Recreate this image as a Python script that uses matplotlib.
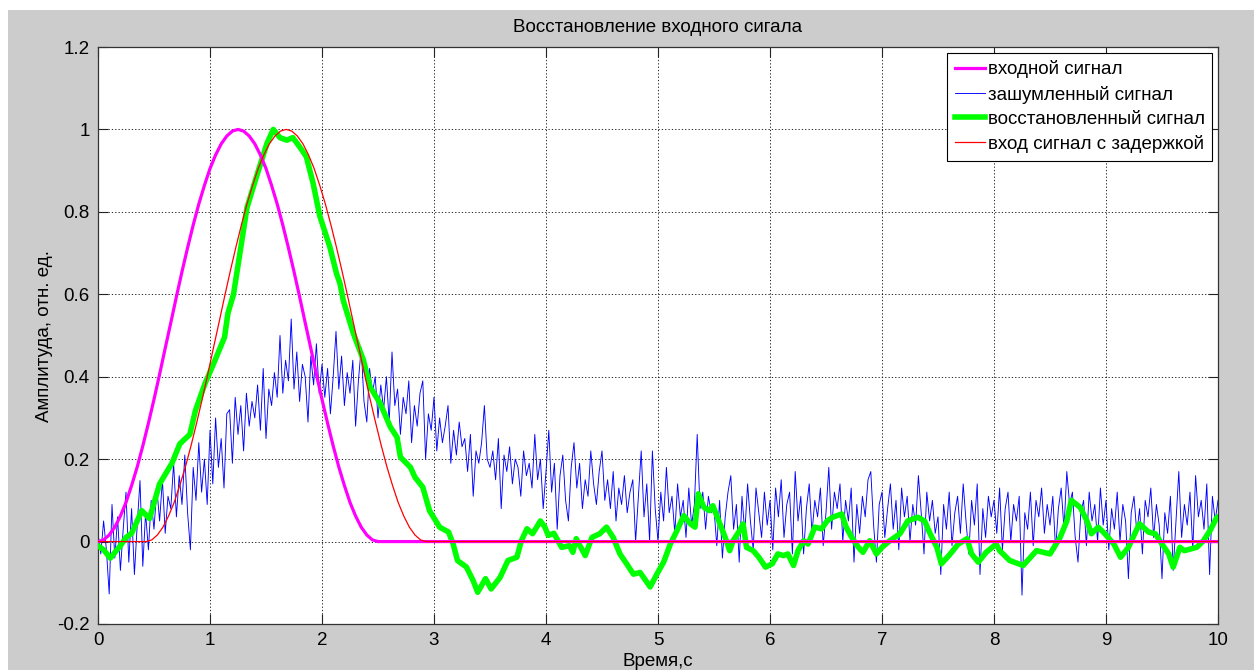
import numpy as np
import matplotlib.pyplot as plt
from matplotlib.patches import Rectangle
from matplotlib.lines import Line2D

plt.rcParams['font.family'] = ['Liberation Sans', 'DejaVu Sans']

# input pulse (raised cosine, 0..2.5 s, 0.05 s step)
dt_in = 0.05
x_in = [0.0, 0.004, 0.016, 0.035, 0.062, 0.095, 0.136, 0.181, 0.232, 0.287,
        0.345, 0.406, 0.469, 0.531, 0.594, 0.655, 0.713, 0.768, 0.819, 0.864,
        0.905, 0.938, 0.965, 0.984, 0.996, 1.0, 0.996, 0.984, 0.965, 0.938,
        0.905, 0.864, 0.819, 0.768, 0.713, 0.655, 0.594, 0.531, 0.469, 0.406,
        0.345, 0.287, 0.232, 0.181, 0.136, 0.095, 0.062, 0.035, 0.016, 0.004, 0.0]
t_end = 10.0
delay = 0.43

# noisy signal, 0.025 s step, one row per 0.5 s
dt_noisy = 0.025
x_noisy = [
    0.02, -0.03, 0.05, -0.02, -0.127, 0.09, -0.04, 0.06, -0.07, 0.03, 0.12, -0.05, 0.08, -0.08, 0.04, 0.148, -0.06, 0.07, -0.02, 0.10,
    0.03, 0.13, 0.05, 0.15, 0.02, 0.11, 0.08, 0.19, 0.06, 0.16, 0.09, 0.21, 0.07, -0.02, 0.18, 0.10, 0.24, 0.12, 0.20, 0.09,
    0.27, 0.14, 0.30, 0.18, 0.25, 0.13, 0.31, 0.32, 0.19, 0.35, 0.26, 0.33, 0.22, 0.36, 0.28, 0.34, 0.30, 0.38, 0.27, 0.42,
    0.25, 0.37, 0.33, 0.41, 0.35, 0.50, 0.36, 0.44, 0.39, 0.54, 0.37, 0.46, 0.34, 0.43, 0.40, 0.29, 0.45, 0.38, 0.48, 0.36,
    0.43, 0.35, 0.42, 0.31, 0.40, 0.51, 0.37, 0.45, 0.33, 0.41, 0.36, 0.44, 0.28, 0.39, 0.47, 0.34, 0.29, 0.42, 0.36, 0.40,
    0.30, 0.38, 0.32, 0.40, 0.29, 0.46, 0.33, 0.37, 0.26, 0.35, 0.31, 0.39, 0.24, 0.33, 0.28, 0.36, 0.39, 0.20, 0.31, 0.27,
    0.35, 0.22, 0.30, 0.24, 0.28, 0.33, 0.19, 0.27, 0.21, 0.29, 0.23, 0.25, 0.17, 0.26, 0.11, 0.22, 0.19, 0.24, 0.33, 0.20,
    0.18, 0.22, 0.15, 0.25, 0.08, 0.21, 0.17, 0.23, 0.14, 0.20, 0.18, 0.11, 0.22, 0.16, 0.19, 0.13, 0.26, 0.15, 0.20, 0.08,
    0.17, 0.27, 0.12, 0.19, 0.03, 0.16, 0.21, 0.10, 0.05, 0.18, 0.24, 0.13, 0.19, 0.08, 0.15, 0.11, 0.22, 0.14, 0.09, 0.17,
    0.22, 0.10, 0.15, 0.08, 0.17, 0.05, 0.13, 0.09, 0.16, 0.07, 0.12, 0.15, 0.00, 0.11, 0.22, 0.06, 0.14, 0.00, 0.22, 0.08,
    0.00, 0.12, 0.05, 0.18, 0.07, 0.11, 0.02, 0.14, 0.06, 0.10, 0.01, 0.13, 0.04, 0.09, 0.26, 0.08, 0.12, 0.03, 0.11, 0.07,
    0.08, -0.01, 0.10, -0.04, 0.06, 0.12, 0.16, 0.03, 0.09, -0.05, 0.11, 0.02, 0.14, 0.05, -0.02, 0.13, 0.07, 0.01, 0.12, 0.04,
    0.10, -0.02, 0.13, 0.06, 0.15, 0.01, 0.09, 0.12, -0.03, 0.17, 0.05, 0.11, -0.03, 0.08, 0.14, 0.02, 0.10, 0.06, 0.13, -0.01,
    0.07, 0.18, 0.03, 0.12, 0.08, 0.14, 0.00, 0.10, 0.05, 0.13, -0.05, 0.09, 0.02, 0.11, 0.06, 0.15, 0.17, 0.04, -0.05, 0.09,
    0.12, 0.01, 0.08, 0.14, 0.03, 0.10, -0.02, 0.13, 0.06, 0.11, 0.00, 0.09, 0.04, 0.16, 0.07, -0.03, 0.12, 0.05, 0.10, 0.02,
    0.06, -0.08, 0.09, 0.03, 0.12, -0.01, 0.07, 0.11, 0.02, 0.14, 0.05, -0.03, 0.10, 0.04, 0.14, -0.08, 0.08, 0.01, 0.11, 0.06,
    0.10, 0.02, 0.13, -0.02, 0.08, 0.12, 0.00, 0.09, 0.05, 0.11, -0.13, 0.07, 0.03, 0.12, -0.01, 0.10, 0.06, 0.13, 0.02, 0.09,
    0.04, 0.11, -0.02, 0.08, 0.13, 0.03, 0.17, 0.09, 0.12, 0.01, -0.05, 0.07, 0.10, -0.01, 0.12, 0.05, 0.09, 0.00, 0.13, 0.04,
    0.10, -0.02, 0.08, 0.03, 0.12, 0.00, 0.09, 0.05, -0.09, 0.07, 0.11, 0.02, 0.08, -0.03, 0.10, 0.06, 0.13, 0.01, 0.09, 0.04,
    -0.09, 0.07, 0.02, 0.11, -0.07, 0.05, 0.17, 0.01, 0.09, 0.04, 0.12, -0.02, 0.16, 0.06, 0.10, 0.03, 0.14, -0.08, 0.11, 0.05,
    0.10,
]

# restored signal
t_rest = [0.0, 0.05, 0.11, 0.2, 0.25, 0.3, 0.35, 0.39, 0.46, 0.55, 0.66, 0.73, 0.82, 0.87,
          0.955, 1.045, 1.13, 1.16, 1.21, 1.33, 1.42, 1.51, 1.565, 1.625, 1.685, 1.74, 1.80,
          1.86, 1.92, 1.98, 2.07, 2.13, 2.16, 2.19, 2.28, 2.37, 2.43, 2.52, 2.61, 2.67, 2.70,
          2.79, 2.83, 2.90, 2.96, 3.05, 3.13, 3.17, 3.21, 3.29, 3.35, 3.39, 3.46, 3.51, 3.59,
          3.66, 3.74, 3.78, 3.83, 3.88, 3.95, 3.99, 4.02, 4.07, 4.14, 4.21, 4.24, 4.27, 4.35,
          4.41, 4.48, 4.54, 4.60, 4.66, 4.72, 4.78, 4.84, 4.93, 4.99, 5.05, 5.11, 5.17, 5.23,
          5.29, 5.33, 5.36, 5.41, 5.46, 5.49, 5.55, 5.60, 5.64, 5.67, 5.73, 5.76, 5.79, 5.85,
          5.90, 5.96, 6.02, 6.07, 6.12, 6.16, 6.21, 6.25, 6.30, 6.34, 6.40, 6.46, 6.51, 6.56,
          6.64, 6.68, 6.73, 6.79, 6.83, 6.89, 6.95, 7.00, 7.07, 7.16, 7.23, 7.32, 7.38, 7.43,
          7.49, 7.53, 7.61, 7.68, 7.76, 7.80, 7.86, 7.93, 8.02, 8.05, 8.14, 8.26, 8.38, 8.50,
          8.59, 8.65, 8.69, 8.77, 8.83, 8.87, 8.93, 8.99, 9.07, 9.13, 9.20, 9.27, 9.30, 9.38,
          9.44, 9.50, 9.56, 9.60, 9.66, 9.70, 9.81, 9.87, 9.93, 9.99, 10.0]
x_rest = [-0.01, -0.02, -0.04, -0.01, 0.01, 0.02, 0.05, 0.075, 0.056, 0.14, 0.19, 0.237, 0.26, 0.318,
          0.383, 0.44, 0.496, 0.554, 0.60, 0.81, 0.89, 0.967, 1.0, 0.98, 0.974, 0.98, 0.958,
          0.934, 0.87, 0.79, 0.715, 0.65, 0.627, 0.585, 0.505, 0.44, 0.375, 0.335, 0.278, 0.253, 0.205,
          0.18, 0.156, 0.132, 0.075, 0.035, 0.023, -0.005, -0.046, -0.062, -0.095, -0.123, -0.09, -0.115, -0.087,
          -0.046, -0.038, 0.002, 0.031, 0.019, 0.05, 0.035, 0.015, 0.02, -0.014, -0.01, -0.026, 0.007, -0.034,
          0.01, 0.019, 0.035, 0.01, -0.03, -0.054, -0.079, -0.075, -0.11, -0.079, -0.05, -0.006, 0.027, 0.063,
          0.043, 0.035, 0.116, 0.083, 0.075, 0.087, 0.045, 0.01, -0.022, 0.002, 0.027, 0.043, -0.014, -0.022,
          -0.038, -0.062, -0.054, -0.03, -0.034, -0.03, -0.058, -0.022, 0.002, -0.006, 0.035, 0.031, 0.05, 0.059,
          0.067, 0.035, 0.01, -0.014, -0.026, 0.002, -0.03, -0.014, 0.002, 0.019, 0.05, 0.059, 0.05, 0.019,
          -0.014, -0.054, -0.03, -0.006, 0.007, -0.03, -0.05, -0.026, -0.006, -0.022, -0.046, -0.058, -0.022, -0.03,
          0.01, 0.05, 0.10, 0.083, 0.05, 0.019, 0.035, 0.019, -0.006, -0.038, -0.014, 0.027, 0.043, 0.023,
          0.019, -0.006, -0.03, -0.062, -0.014, -0.022, -0.014, 0.002, 0.027, 0.059, 0.06]

t_in = np.arange(len(x_in)) * dt_in
t_noisy = np.arange(len(x_noisy)) * dt_noisy
t_pulse = np.append(t_in, t_end)
x_pulse = np.append(x_in, 0.0)
t_delayed = np.concatenate([[0.0], t_in + delay, [t_end]])
x_delayed = np.concatenate([[0.0], x_in, [0.0]])

fig = plt.figure(figsize=(12.54, 6.70), dpi=100, facecolor='white')
fig.patches.append(Rectangle((8 / 1254, 0), 1, 1 - 10 / 670, transform=fig.transFigure,
                             facecolor='#cccccc', edgecolor='none', zorder=-10))
ax = fig.add_axes([98 / 1254, 46 / 670, 1120 / 1254, 577 / 670])
ax.set_zorder(1)

ax.plot(t_noisy, x_noisy, color='#0000ff', lw=0.65, zorder=2)
ax.plot(t_rest, x_rest, color='#00ff00', lw=4.0, zorder=3, solid_joinstyle='round')
ax.plot(t_pulse, x_pulse, color='#ff00ff', lw=2.3, zorder=4)
ax.plot(t_delayed, x_delayed, color='#ff0000', lw=0.9, zorder=5)

ax.set_xlim(0, 10)
ax.set_ylim(-0.2, 1.2)
ax.set_xticks(range(0, 11))
ax.set_yticks([-0.2, 0, 0.2, 0.4, 0.6, 0.8, 1.0, 1.2])
ax.set_yticklabels(['-0.2', '0', '0.2', '0.4', '0.6', '0.8', '1', '1.2'])
ax.tick_params(direction='in', length=7, width=0.8, top=True, right=True,
               labelsize=13.5, pad=6, colors='#222222', labelcolor='black')
ax.grid(True, color='black', linestyle=(0, (1.5, 2.5)), linewidth=0.6)
for sp in ax.spines.values():
    sp.set_color('#333333')
    sp.set_linewidth(0.9)

ax.set_title('Восстановление входного сигала', fontsize=13.5, pad=11)
ax.set_xlabel('Время,с', fontsize=13.5, va='center')
ax.xaxis.set_label_coords(0.5, -(661 - 623) / 577)
ax.set_ylabel('Амплитуда, отн. ед.', fontsize=13.5, va='center')
ax.yaxis.set_label_coords(-(98 - 45) / 1120, 0.5)

handles = [
    Line2D([], [], color='#ff00ff', lw=2.3),
    Line2D([], [], color='#0000ff', lw=0.65),
    Line2D([], [], color='#00ff00', lw=4.0),
    Line2D([], [], color='#ff0000', lw=0.9),
]
labels = ['входной сигнал', 'зашумленный сигнал', 'восстановленный сигнал', 'вход сигнал с задержкой']
leg = ax.legend(handles, labels, loc='upper right', fontsize=13.5, fancybox=False,
                framealpha=1, edgecolor='black', borderpad=0.42, labelspacing=0.38,
                handlelength=1.6, handletextpad=0.15, borderaxespad=0.3)
leg.get_frame().set_linewidth(0.8)
leg.set_zorder(10)

fig.savefig('out.png', dpi=100, facecolor=fig.get_facecolor())
